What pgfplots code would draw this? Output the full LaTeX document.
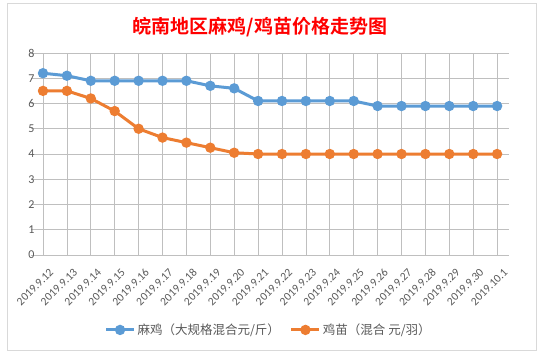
\documentclass[border=0pt]{standalone}
\usepackage{pgfplots}
\pgfplotsset{compat=1.18}
\usepackage{fontspec}
\setmainfont{Carlito}
\newfontfamily\cjk{Noto Sans CJK SC}
\newfontfamily\cjkb{Noto Sans CJK SC Bold}
\definecolor{sblue}{HTML}{5B9BD5}
\definecolor{sorange}{HTML}{ED7D31}
\definecolor{txtgray}{HTML}{595959}
\definecolor{grid}{HTML}{D9D9D9}
\begin{document}
\begin{tikzpicture}[x=1pt,y=1pt]
\fill[white] (0,0) rectangle (539,353);
\useasboundingbox (0,0) rectangle (539,353);
\draw[grid, line width=0.75pt] (7.5,3) rectangle (536,350);
\node[text=red, font=\cjkb\fontsize{19}{22}\selectfont] at (260,326) {皖南地区麻鸡/鸡苗价格走势图};
\begin{axis}[
  at={(43pt,98pt)}, anchor=origin,
  scale only axis, width=478pt, height=202pt,
  xmin=-0.5, xmax=19.5, ymin=0, ymax=8,
  ytick={0,1,...,8},
  xtick={0,1,...,19},
  xticklabels={2019.9.12,2019.9.13,2019.9.14,2019.9.15,2019.9.16,2019.9.17,2019.9.18,2019.9.19,2019.9.20,2019.9.21,2019.9.22,2019.9.23,2019.9.24,2019.9.25,2019.9.26,2019.9.27,2019.9.28,2019.9.29,2019.9.30,2019.10.1},
  axis line style={draw=none},
  major tick length=0pt,
  ymajorgrids, grid style={grid, line width=0.75pt},
  /pgf/number format/assume math mode=true,
  yticklabel style={text=txtgray, font=\fontsize{12}{14}\selectfont, xshift=7pt},
  xticklabel style={text=txtgray, font=\fontsize{11.5}{13}\selectfont, xshift=11pt, yshift=-13pt, rotate=45, anchor=east},
  legend columns=2,
  legend style={at={(0.497,-0.371)}, anchor=center, draw=none, fill=none,
    font=\cjk\fontsize{12.5}{14}\selectfont, text=txtgray,
    /tikz/every even column/.append style={column sep=8pt}},
  legend image code/.code={
    \draw[#1] (0pt,0pt) -- (28pt,0pt);
    \draw[#1, mark repeat=1] plot coordinates {(14pt,0pt)};
  },
]
\addplot[sblue, line width=3pt, mark=*, mark size=3.6pt, mark options={solid, draw=none, fill=sblue}] coordinates {
(0,7.2)(1,7.1)(2,6.9)(3,6.9)(4,6.9)(5,6.9)(6,6.9)(7,6.7)(8,6.6)(9,6.1)
(10,6.1)(11,6.1)(12,6.1)(13,6.1)(14,5.9)(15,5.9)(16,5.9)(17,5.9)(18,5.9)(19,5.9)};
\addlegendentry{麻鸡（大规格混合元/斤）}
\addplot[sorange, line width=3pt, mark=*, mark size=3.6pt, mark options={solid, draw=none, fill=sorange}] coordinates {
(0,6.5)(1,6.5)(2,6.2)(3,5.7)(4,5.0)(5,4.65)(6,4.45)(7,4.25)(8,4.05)(9,4.0)
(10,4.0)(11,4.0)(12,4.0)(13,4.0)(14,4.0)(15,4.0)(16,4.0)(17,4.0)(18,4.0)(19,4.0)};
\addlegendentry{鸡苗（混合 元/羽）}
\end{axis}
\end{tikzpicture}
\end{document}
